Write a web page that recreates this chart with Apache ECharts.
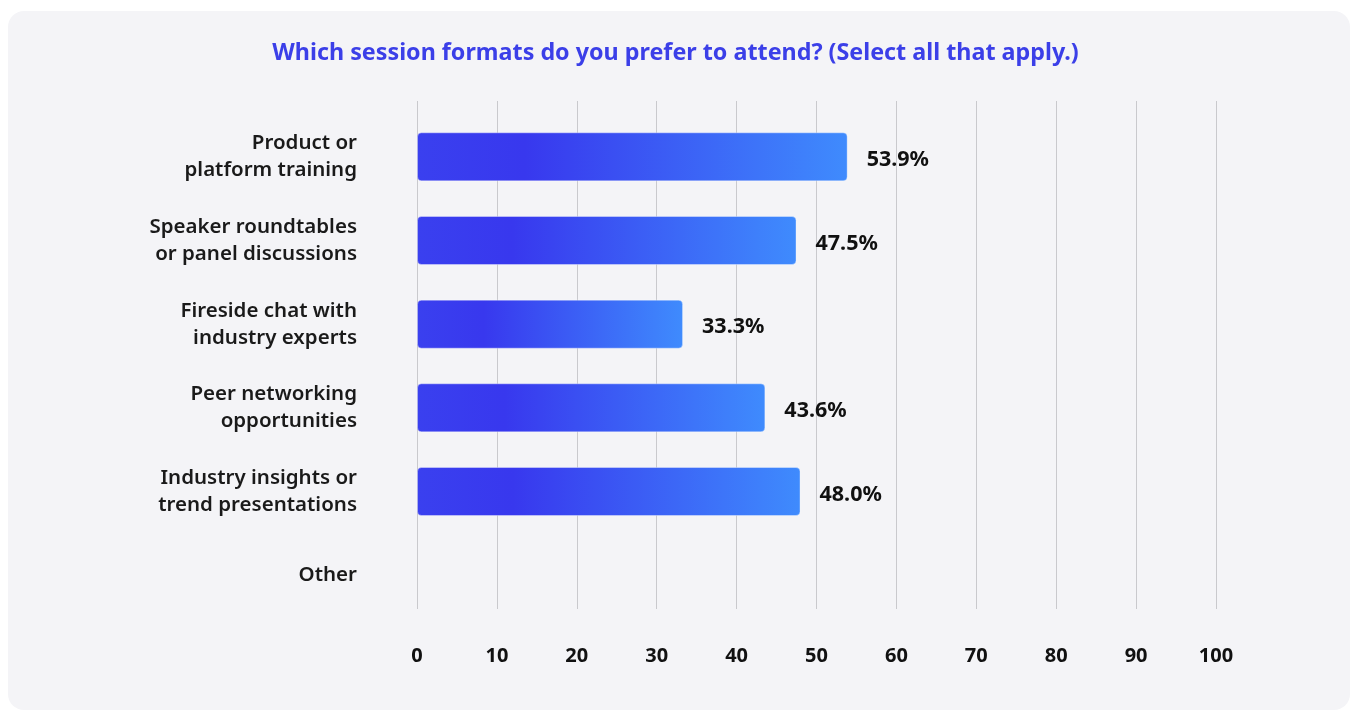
<!DOCTYPE html>
<html>
<head>
<meta charset="utf-8">
<style>
  html, body { margin: 0; padding: 0; background: #ffffff; }
  #chart { width: 1351px; height: 711px; }
</style>
<script src="https://cdn.jsdelivr.net/npm/echarts@6/dist/echarts.min.js"></script>
</head>
<body>
<div id="chart"></div>
<script>
// Survey question and answer options
const titleText = 'Which session formats do you prefer to attend? (Select all that apply.)';
const categories = [
  'Product or\nplatform training',
  'Speaker roundtables\nor panel discussions',
  'Fireside chat with\nindustry experts',
  'Peer networking\nopportunities',
  'Industry insights or\ntrend presentations',
  'Other'
];
// Share of respondents (%) per option; "Other" has no bar
const shares = [53.9, 47.5, 33.3, 43.6, 48.0, null];
// Value axis ticks
const axisMin = 0;
const axisMax = 100;
const axisStep = 10;

const FONT = '"Noto Sans", "DejaVu Sans", sans-serif';

const chart = echarts.init(document.getElementById('chart'), null, { renderer: 'canvas' });

chart.setOption({
  backgroundColor: '#ffffff',
  animation: false,
  graphic: [{
    type: 'rect',
    z: -10,
    shape: { x: 8, y: 11, width: 1342, height: 699, r: 16 },
    style: { fill: '#f4f4f7' }
  }],
  title: {
    text: titleText,
    left: 'center',
    top: 37,
    textStyle: { color: '#3b3fe8', fontFamily: FONT, fontWeight: 'bold', fontSize: 23.3 }
  },
  grid: [
    // bars
    { left: 417, right: 135, top: 115, height: 502, containLabel: false },
    // gridlines and tick labels
    { left: 417, right: 135, top: 101, height: 508, containLabel: false }
  ],
  xAxis: [
    {
      gridIndex: 0, type: 'value', min: axisMin, max: axisMax, interval: axisStep,
      show: false
    },
    {
      gridIndex: 1, type: 'value', min: axisMin, max: axisMax, interval: axisStep,
      axisLine: { show: false }, axisTick: { show: false },
      splitLine: { show: true, lineStyle: { color: '#c9c9cd', width: 1 } },
      axisLabel: {
        margin: 37, color: '#111111', fontFamily: FONT, fontWeight: 'bold', fontSize: 20
      }
    }
  ],
  yAxis: [
    {
      gridIndex: 0, type: 'category', data: categories, inverse: true,
      axisLine: { show: false }, axisTick: { show: false }, splitLine: { show: false },
      axisLabel: {
        margin: 60, color: '#1a1a1a', fontFamily: FONT, fontWeight: 600, fontSize: 20.5,
        lineHeight: 27, align: 'right'
      }
    },
    {
      gridIndex: 1, type: 'category', data: categories, show: false
    }
  ],
  series: [{
    type: 'bar',
    xAxisIndex: 0, yAxisIndex: 0,
    data: shares,
    barWidth: 49,
    itemStyle: {
      borderRadius: 4,
      borderColor: 'rgba(255,255,255,0.35)',
      borderWidth: 1,
      color: new echarts.graphic.LinearGradient(0, 0, 1, 0, [
        { offset: 0, color: '#3a40ef' },
        { offset: 0.25, color: '#3838ee' },
        { offset: 1, color: '#3f8bfd' }
      ])
    },
    label: {
      show: true,
      position: 'right',
      distance: 19,
      offset: [0, 3],
      color: '#111111',
      fontFamily: FONT,
      fontWeight: 'bold',
      fontSize: 21.5,
      formatter: p => p.value == null ? '' : p.value.toFixed(1) + '%'
    }
  }]
});
</script>
</body>
</html>
